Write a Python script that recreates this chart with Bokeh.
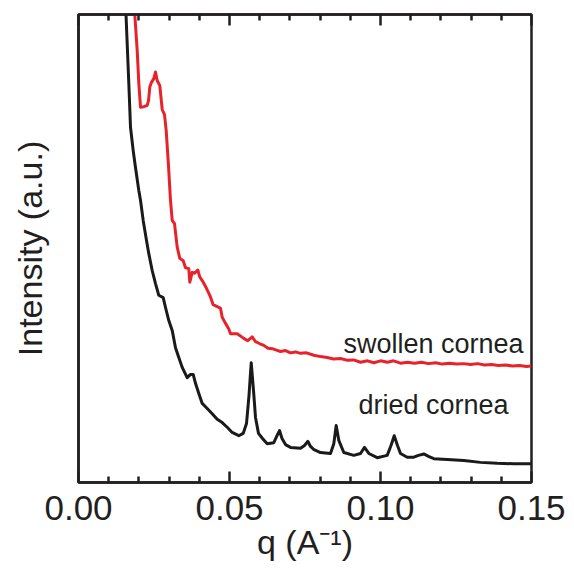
from bokeh.plotting import figure
from bokeh.models import Range1d, LinearAxis, FixedTicker, Label, PrintfTickFormatter
from bokeh.embed import file_html
from bokeh.resources import INLINE

# ---- data (intensity in arbitrary units) ----
q_dried = [0.01457, 0.01573, 0.01666, 0.01722, 0.01811, 0.01887, 0.01997, 0.02053, 0.02142, 0.02252,
           0.02328, 0.02440, 0.02550, 0.02659, 0.02805, 0.02881, 0.02990, 0.03103, 0.03212, 0.03321,
           0.03434, 0.03599, 0.03709, 0.03798, 0.03874, 0.03984, 0.04096, 0.04262, 0.04427, 0.04593,
           0.04758, 0.04924, 0.05089, 0.05308, 0.05454, 0.05563, 0.05646, 0.05719, 0.05795, 0.05861,
           0.05960, 0.06093, 0.06248, 0.06467, 0.06573, 0.06656, 0.06739, 0.06854, 0.07020, 0.07351,
           0.07484, 0.07593, 0.07682, 0.07782, 0.08013, 0.08344, 0.08454, 0.08533, 0.08619, 0.08785,
           0.09116, 0.09338, 0.09470, 0.09613, 0.09891, 0.10222, 0.10348, 0.10454, 0.10563, 0.10662,
           0.10884, 0.11103, 0.11258, 0.11434, 0.11589, 0.11765, 0.12209, 0.12759, 0.13311, 0.13864,
           0.14414, 0.15000]
i_dried = [11.15, 10.00, 8.53, 7.59, 7.09, 6.73, 6.24, 6.03, 5.60, 5.17,
           4.89, 4.53, 4.25, 4.00, 3.95, 3.74, 3.46, 3.25, 2.88, 2.67,
           2.46, 2.24, 2.31, 2.31, 2.12, 1.90, 1.69, 1.58, 1.47, 1.35,
           1.28, 1.18, 1.07, 1.00, 1.05, 1.26, 1.86, 2.56, 1.97, 1.39,
           1.05, 0.94, 0.83, 0.85, 1.00, 1.11, 0.94, 0.81, 0.75, 0.73,
           0.79, 0.88, 0.77, 0.71, 0.64, 0.62, 0.83, 1.22, 0.90, 0.64,
           0.58, 0.62, 0.75, 0.62, 0.53, 0.58, 0.79, 1.00, 0.79, 0.62,
           0.54, 0.54, 0.58, 0.61, 0.56, 0.51, 0.49, 0.47, 0.43, 0.41,
           0.40, 0.40]

q_swollen = [0.01821, 0.01864, 0.01944, 0.01997, 0.02053, 0.02162, 0.02275, 0.02318, 0.02361, 0.02417,
             0.02493, 0.02550, 0.02606, 0.02692, 0.02772, 0.02848, 0.02904, 0.02980, 0.03046, 0.03103,
             0.03179, 0.03268, 0.03354, 0.03467, 0.03543, 0.03652, 0.03686, 0.03765, 0.03841, 0.03950,
             0.04017, 0.04129, 0.04238, 0.04348, 0.04460, 0.04593, 0.04702, 0.04758, 0.04868, 0.04977,
             0.05033, 0.05255, 0.05474, 0.05606, 0.05752, 0.05861, 0.05993, 0.06136, 0.06275, 0.06414,
             0.06556, 0.06689, 0.06854, 0.07020, 0.07185, 0.07351, 0.07550, 0.07792, 0.08013, 0.08235,
             0.08444, 0.08676, 0.08907, 0.09106, 0.09338, 0.09570, 0.09778, 0.10000, 0.10232, 0.10430,
             0.10662, 0.10894, 0.11126, 0.11358, 0.11589, 0.11821, 0.12053, 0.12285, 0.12517, 0.12748,
             0.12980, 0.13212, 0.13444, 0.13676, 0.13907, 0.14139, 0.14371, 0.14603, 0.14834, 0.15000]
i_swollen = [11.15, 10.00, 9.23, 8.53, 8.02, 8.03, 8.06, 8.16, 8.45, 8.55,
             8.63, 8.77, 8.59, 8.48, 7.97, 7.86, 7.52, 6.77, 6.03, 5.60,
             5.53, 5.03, 4.79, 4.74, 4.59, 4.57, 4.28, 4.49, 4.47, 4.54,
             4.39, 4.28, 4.15, 4.00, 3.80, 3.76, 3.72, 3.53, 3.40, 3.28,
             3.18, 3.18, 3.08, 3.03, 3.11, 3.01, 2.97, 2.93, 2.87, 2.86,
             2.83, 2.80, 2.82, 2.77, 2.79, 2.76, 2.77, 2.72, 2.69, 2.67,
             2.64, 2.65, 2.61, 2.62, 2.57, 2.60, 2.56, 2.60, 2.57, 2.60,
             2.55, 2.57, 2.55, 2.57, 2.54, 2.56, 2.53, 2.55, 2.53, 2.54,
             2.52, 2.54, 2.51, 2.52, 2.50, 2.51, 2.49, 2.50, 2.48, 2.49]

series_names = ["swollen cornea", "dried cornea"]
name_pos_q = [0.08775, 0.09272]
name_pos_i = [2.97, 1.65]

major_ticks = [0.0, 0.05, 0.10, 0.15]
minor_ticks = [0.01, 0.02, 0.03, 0.04, 0.06, 0.07, 0.08, 0.09, 0.11, 0.12, 0.13, 0.14]

x_title = "q (A\u207b\u00b9)"
y_title = "Intensity (a.u.)"

FONT = "Liberation Sans"
INK = "#231f20"
RED = "#e8222a"

p = figure(width=574, height=573, x_range=Range1d(0, 0.15), y_range=Range1d(0, 10),
           output_backend="svg", toolbar_location=None,
           min_border_left=78, min_border_right=43, min_border_top=14, min_border_bottom=91)
p.xgrid.visible = False
p.ygrid.visible = False
p.outline_line_color = INK
p.outline_line_width = 2.5
p.background_fill_color = "white"
p.border_fill_color = "white"


def style_x(ax):
    ax.ticker = FixedTicker(ticks=major_ticks, minor_ticks=minor_ticks)
    ax.major_tick_in = 11
    ax.major_tick_out = 0
    ax.minor_tick_in = 6
    ax.minor_tick_out = 0
    ax.major_tick_line_width = 2.5
    ax.minor_tick_line_width = 2.5
    ax.major_tick_line_color = INK
    ax.minor_tick_line_color = INK
    ax.axis_line_width = 2.5
    ax.axis_line_color = INK


xa = p.xaxis[0]
style_x(xa)
xa.formatter = PrintfTickFormatter(format="%.2f")
xa.major_label_text_font = FONT
xa.major_label_text_font_size = "35px"
xa.major_label_text_color = INK
xa.major_label_standoff = 13
xa.axis_label = x_title
xa.axis_label_text_font = FONT
xa.axis_label_text_font_size = "34px"
xa.axis_label_text_font_style = "normal"
xa.axis_label_text_color = INK
xa.axis_label_standoff = 0

top = LinearAxis()
style_x(top)
top.major_label_text_font_size = "0px"
top.major_label_text_color = None
top.major_label_standoff = 0
p.add_layout(top, "above")

ya = p.yaxis[0]
ya.ticker = FixedTicker(ticks=[])
ya.major_tick_in = 0
ya.major_tick_out = 0
ya.minor_tick_in = 0
ya.minor_tick_out = 0
ya.axis_line_width = 2.5
ya.axis_line_color = INK
ya.axis_label = y_title
ya.axis_label_text_font = FONT
ya.axis_label_text_font_size = "34px"
ya.axis_label_text_font_style = "normal"
ya.axis_label_text_color = INK
ya.axis_label_standoff = 30

p.line(q_dried, i_dried, line_color="#1a1a1a", line_width=3, line_join="round")
p.line(q_swollen, i_swollen, line_color=RED, line_width=3, line_join="round")

for name, xq, yi in zip(series_names, name_pos_q, name_pos_i):
    p.add_layout(Label(x=xq, y=yi, text=name, text_font=FONT, text_font_size="27px",
                       text_color=INK, text_baseline="alphabetic", text_align="left"))

open("out.html", "w").write(file_html(p, INLINE))
